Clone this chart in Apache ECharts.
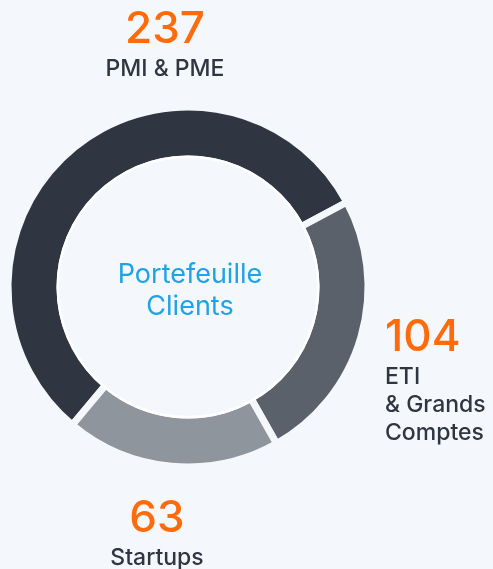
<!DOCTYPE html>
<html>
<head>
<meta charset="utf-8">
<title>Portefeuille Clients</title>
<script src="https://cdn.jsdelivr.net/npm/echarts@6/dist/echarts.min.js"></script>
<style>
  html, body { margin: 0; padding: 0; background: #f4f7fb; }
  #chart { width: 493px; height: 569px; }
</style>
</head>
<body>
<div id="chart"></div>
<script>
// client segments
var segments = ['PMI & PME', 'ETI\n& Grands\nComptes', 'Startups'];
var clientCounts = [237, 104, 63];
var sliceColors = ['#2f3541', '#5b616b', '#8f959c'];

// where each label sits (x, y of its top, alignment)
var labelSpots = [
    { x: 165, y: 5, align: 'center' },
    { x: 385, y: 313, align: 'left' },
    { x: 157, y: 494, align: 'center' }
];

var bg = '#f4f7fb';
var fontFamily = 'Inter, "Noto Sans", sans-serif';

var chart = echarts.init(document.getElementById('chart'));

var option = {
    backgroundColor: bg,
    animation: false,
    graphic: [
        {
            type: 'text',
            x: 190,
            y: 259,
            silent: true,
            style: {
                text: 'Portefeuille\nClients',
                textAlign: 'center',
                textVerticalAlign: 'top',
                fontFamily: fontFamily,
                fontSize: 27,
                lineHeight: 32,
                fill: '#1fa3e4'
            }
        }
    ],
    series: [
        {
            type: 'pie',
            center: [188, 287],
            radius: [128, 180],
            startAngle: 230,
            minAngle: 69.5,
            clockwise: true,
            avoidLabelOverlap: false,
            emphasis: { disabled: true },
            itemStyle: {
                borderColor: bg,
                borderWidth: 7
            },
            labelLine: { show: false },
            label: {
                show: true,
                formatter: '{v|{c}}\n{n|{b}}',
                rich: {
                    v: {
                        fontFamily: fontFamily,
                        fontSize: 44,
                        fontWeight: 500,
                        lineHeight: 50,
                        color: '#ff6b0a'
                    },
                    n: {
                        fontFamily: fontFamily,
                        fontSize: 23,
                        fontWeight: 500,
                        lineHeight: 28,
                        color: '#2f3541'
                    }
                }
            },
            labelLayout: function (params) {
                var s = labelSpots[params.dataIndex];
                return {
                    x: s.x,
                    y: s.y,
                    align: s.align,
                    verticalAlign: 'top'
                };
            },
            data: clientCounts.map(function (val, index) {
                return {
                    value: val,
                    name: segments[index],
                    itemStyle: { color: sliceColors[index] },
                    label: { align: labelSpots[index].align }
                };
            })
        },
        {
            // thin white rim round the hole
            type: 'pie',
            center: [188, 287],
            radius: [129, 131.5],
            silent: true,
            z: 3,
            label: { show: false },
            labelLine: { show: false },
            emphasis: { disabled: true },
            data: [{ value: 1, itemStyle: { color: '#ffffff' } }]
        }
    ]
};

chart.setOption(option);
</script>
</body>
</html>
